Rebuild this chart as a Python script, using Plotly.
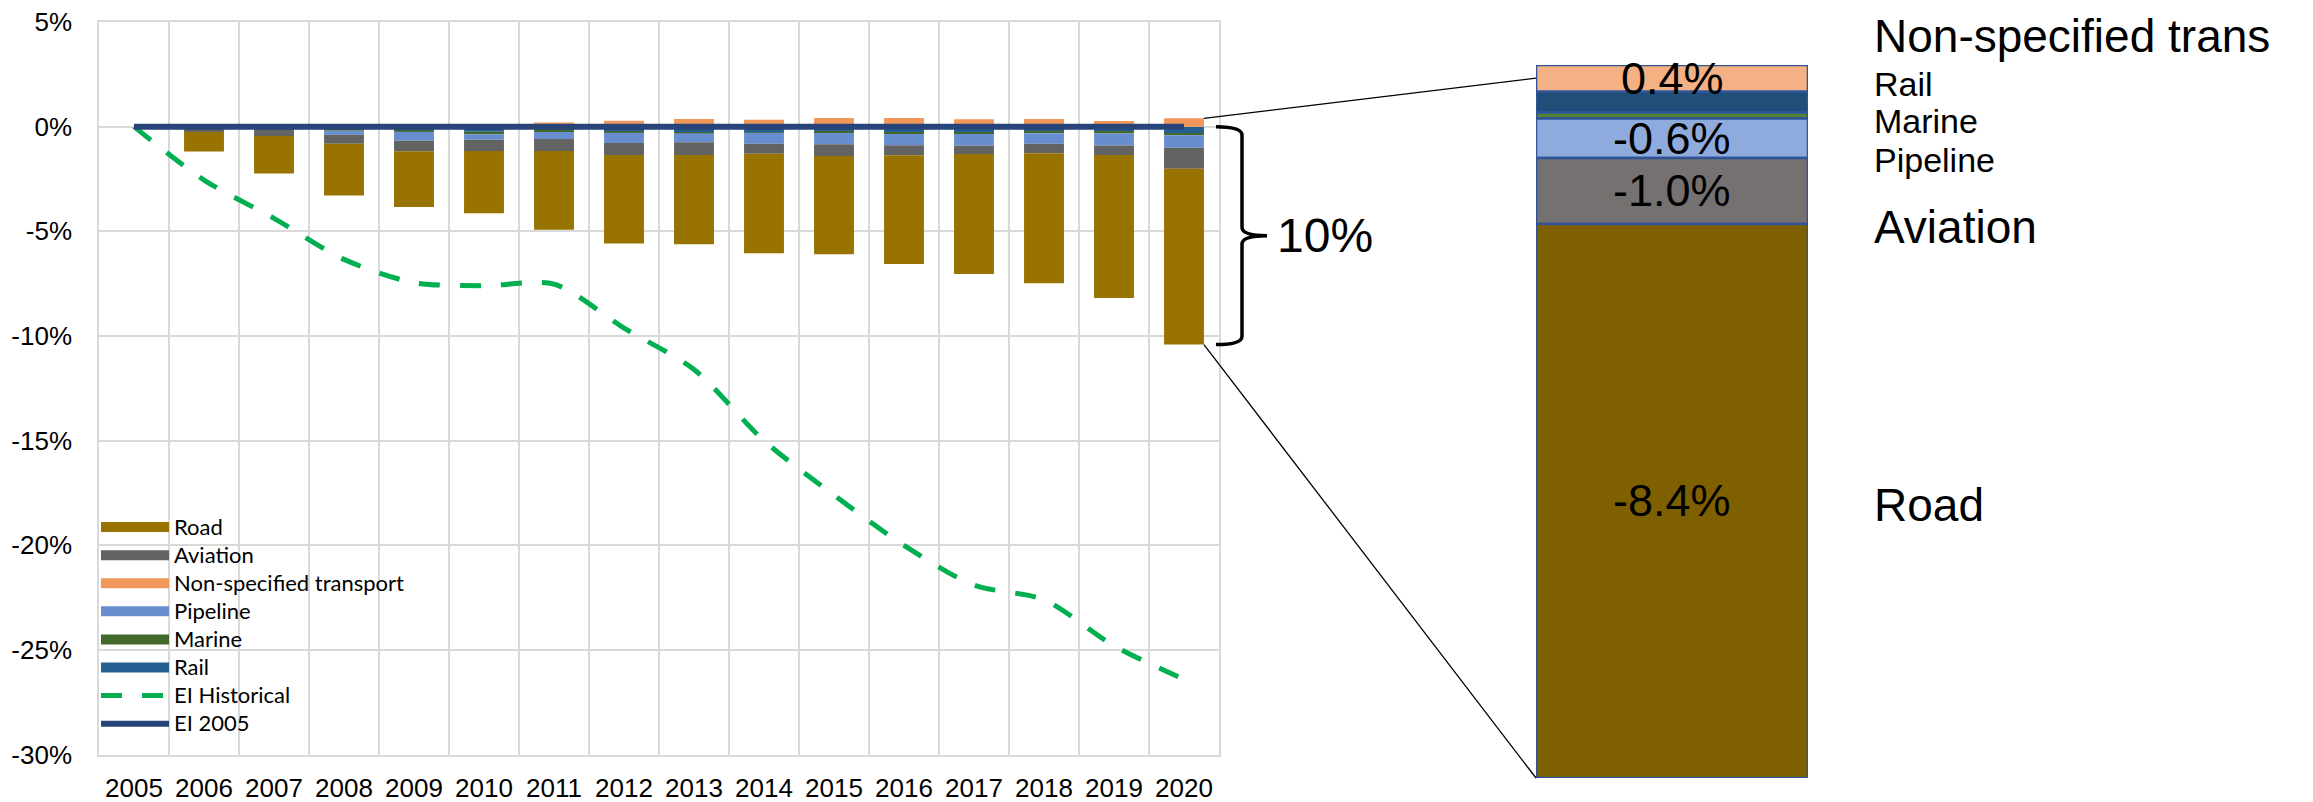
import plotly.graph_objects as go

# ---- data: change vs 2005 in transport energy intensity, percentage points ----
years = [str(y) for y in range(2005, 2021)]
road = [0.0, -0.94, -1.80, -2.47, -2.67, -2.97, -3.76, -4.23, -4.27, -4.76, -4.70, -5.20, -5.74, -6.21, -6.83, -8.40]
aviation = [0.0, -0.21, -0.38, -0.44, -0.50, -0.54, -0.57, -0.57, -0.61, -0.48, -0.56, -0.47, -0.39, -0.45, -0.45, -1.00]
non_specified = [0.0, 0.0, 0.0, 0.0, 0.0, 0.0, 0.20, 0.28, 0.37, 0.33, 0.41, 0.41, 0.35, 0.37, 0.27, 0.40]
pipeline = [0.0, 0.0, 0.0, -0.19, -0.43, -0.26, -0.34, -0.49, -0.42, -0.52, -0.54, -0.54, -0.56, -0.50, -0.57, -0.60]
marine = [0.0, -0.01, -0.02, -0.11, -0.05, -0.12, -0.15, -0.04, -0.05, -0.02, -0.05, -0.05, -0.05, -0.07, -0.08, -0.09]
rail = [0.0, -0.03, -0.04, -0.08, -0.19, -0.24, -0.10, -0.25, -0.27, -0.27, -0.25, -0.30, -0.30, -0.25, -0.25, -0.32]
ei_historical = [0.0, -2.55, -4.38, -6.34, -7.45, -7.60, -7.52, -9.62, -11.6, -15.0, -17.6, -20.0, -21.9, -22.6, -24.8, -26.4]
ei_2005 = [0.0] * len(years)

y_tick_values = [5, 0, -5, -10, -15, -20, -25, -30]
y_tick_labels = ["5%", "0%", "-5%", "-10%", "-15%", "-20%", "-25%", "-30%"]

# ---- styling ----
W, H = 2313, 802
AXIS_FONT = "Liberation Sans, Arial, sans-serif"
LEGEND_FONT = "Lato, Carlito, Calibri, sans-serif"
GRID = "#D9D9D9"

bar_colors = {
    "Road": "#997300", "Aviation": "#636363", "Non-specified transport": "#F1975A",
    "Pipeline": "#698ED0", "Marine": "#43682B", "Rail": "#255E91",
}
zoom_colors = {
    "Road": "#7F6000", "Aviation": "#767171", "Non-specified transport": "#F4B183",
    "Pipeline": "#8FAADC", "Marine": "#548235", "Rail": "#1F4E79",
}
series = {
    "Road": road, "Aviation": aviation, "Non-specified transport": non_specified,
    "Pipeline": pipeline, "Marine": marine, "Rail": rail,
}
# stacking order outward from zero
stack_order = ["Rail", "Marine", "Pipeline", "Non-specified transport", "Aviation", "Road"]
legend_order = ["Road", "Aviation", "Non-specified transport", "Pipeline", "Marine", "Rail"]

# main plot area (pixels)
X0, X1 = 99, 1219
Y_TOP, Y_BOT = 22, 754.7
Y_MIN, Y_MAX = -30, 5
BAR_W = 0.57
# detail bar area (pixels)
ZX0, ZX1 = 1536, 1808
ZY_TOP, ZY_BOT = 65, 778

n = len(years)
last = n - 1
neg_total = sum(series[k][last] for k in series if series[k][last] < 0)
pos_total = sum(series[k][last] for k in series if series[k][last] > 0)

xdom = [X0 / W, X1 / W]
ydom = [1 - Y_BOT / H, 1 - Y_TOP / H]
x2dom = [ZX0 / W, ZX1 / W]
y2dom = [1 - ZY_BOT / H, 1 - ZY_TOP / H]
y2range = [neg_total, pos_total]


def main_x_paper(v):
    return xdom[0] + (v + 0.5) / n * (xdom[1] - xdom[0])


def main_y_paper(v):
    return ydom[0] + (v - Y_MIN) / (Y_MAX - Y_MIN) * (ydom[1] - ydom[0])


def zoom_y_paper(v):
    return y2dom[0] + (v - y2range[0]) / (y2range[1] - y2range[0]) * (y2dom[1] - y2dom[0])


def legend_label(text):
    # larger glyphs on a tight legend row pitch
    return f'<span style="font-size:22px">{text}</span>'


fig = go.Figure()

# stacked bars by mode
for name in stack_order:
    fig.add_trace(go.Bar(
        x=years, y=series[name], name=name, legendgroup=name, showlegend=False,
        marker=dict(color=bar_colors[name], line=dict(width=0)), width=BAR_W,
        xaxis="x", yaxis="y",
    ))

# legend swatches for the bar series
for i, name in enumerate(legend_order):
    fig.add_trace(go.Scatter(
        x=[None], y=[None], mode="lines", name=legend_label(name), legendgroup=name,
        legendrank=i + 1, line=dict(color=bar_colors[name], width=14), xaxis="x", yaxis="y",
    ))

fig.add_trace(go.Scatter(
    x=years, y=ei_historical, name=legend_label("EI Historical"), mode="lines", legendrank=7,
    line=dict(color="#00B050", width=5, dash="21px,20px", shape="spline", smoothing=0.8),
    xaxis="x", yaxis="y",
))
fig.add_trace(go.Scatter(
    x=years, y=ei_2005, name=legend_label("EI 2005"), mode="lines", legendrank=8,
    line=dict(color="#264478", width=6), xaxis="x", yaxis="y",
))

# detail bar for the final year
for name in stack_order:
    fig.add_trace(go.Bar(
        x=[0], y=[series[name][last]], name=name, showlegend=False, width=1,
        marker=dict(color=zoom_colors[name], line=dict(color="#2F5597", width=2.5)),
        xaxis="x2", yaxis="y2",
    ))

annotations = []
shapes = []

# value labels inside the detail bar
pos_base, neg_base = 0.0, 0.0
for name in stack_order:
    v = series[name][last]
    if v >= 0:
        mid = pos_base + v / 2
        pos_base += v
    else:
        mid = neg_base + v / 2
        neg_base += v
    if name in ("Rail", "Marine"):
        continue
    annotations.append(dict(
        x=0, y=mid, xref="x2", yref="y2", text=f"{v:.1f}%", showarrow=False,
        font=dict(family=AXIS_FONT, size=45, color="#000000"),
    ))

# mode names beside the detail bar
side_labels = [
    ("Non-specified trans", 36, 46), ("Rail", 84, 34), ("Marine", 121, 34),
    ("Pipeline", 160, 34), ("Aviation", 227, 46), ("Road", 505, 46),
]
for text, ypx, size in side_labels:
    annotations.append(dict(
        x=1872 / W, y=1 - ypx / H, xref="paper", yref="paper", xanchor="left", yanchor="middle",
        text=text, showarrow=False, font=dict(family=AXIS_FONT, size=size, color="#000000"),
    ))

# connectors from the final-year bar to the detail bar
bar_right = main_x_paper(last + BAR_W / 2)
shapes.append(dict(type="line", xref="paper", yref="paper",
                   x0=bar_right, y0=main_y_paper(pos_total),
                   x1=x2dom[0], y1=zoom_y_paper(pos_total / 2),
                   line=dict(color="#000000", width=1.3)))
shapes.append(dict(type="line", xref="paper", yref="paper",
                   x0=bar_right, y0=main_y_paper(neg_total),
                   x1=x2dom[0], y1=zoom_y_paper(neg_total),
                   line=dict(color="#000000", width=1.3)))

# curly brace spanning the final-year decline
xa, xv, xt = (X1 - 3) / W, (X1 + 23) / W, (X1 + 48) / W
yt, yb = 0.0, neg_total
ym = (yt + yb) / 2
r = 0.4
brace = (f"M {xa},{yt} Q {xv},{yt} {xv},{yt - r} L {xv},{ym + r} "
         f"Q {xv},{ym} {xt},{ym} Q {xv},{ym} {xv},{ym - r} "
         f"L {xv},{yb + r} Q {xv},{yb} {xa},{yb}")
shapes.append(dict(type="path", xref="paper", yref="y", path=brace,
                   line=dict(color="#000000", width=3.5)))
annotations.append(dict(
    x=(X1 + 56) / W, y=ym, xref="paper", yref="y", xanchor="left", yanchor="middle",
    text=f"{abs(round(neg_total))}%", showarrow=False,
    font=dict(family=AXIS_FONT, size=48, color="#000000"),
))

fig.update_layout(
    width=W, height=H, margin=dict(l=0, r=0, t=0, b=0),
    paper_bgcolor="white", plot_bgcolor="white",
    barmode="relative", bargap=1 - BAR_W,
    showlegend=True,
    legend=dict(
        x=96 / W, y=1 - 508 / H, xanchor="left", yanchor="top",
        bgcolor="rgba(0,0,0,0)", borderwidth=0, itemwidth=68,
        font=dict(family=LEGEND_FONT, size=19.3, color="#000000"),
        tracegroupgap=0,
    ),
    xaxis=dict(
        domain=xdom, type="category", range=[-0.5, n - 0.5], tickson="boundaries",
        showgrid=True, gridcolor=GRID, gridwidth=1.5, ticks="",
        showline=True, linecolor=GRID, linewidth=1.5, mirror=True,
        tickfont=dict(family=AXIS_FONT, size=26, color="#000000"),
        ticklabelstandoff=9, automargin=False, fixedrange=True,
    ),
    yaxis=dict(
        domain=ydom, range=[Y_MIN, Y_MAX], tickmode="array",
        tickvals=y_tick_values, ticktext=y_tick_labels,
        showgrid=True, gridcolor=GRID, gridwidth=1.5, zeroline=False, ticks="",
        showline=True, linecolor=GRID, linewidth=1.5, mirror=True,
        tickfont=dict(family=AXIS_FONT, size=26, color="#000000"),
        ticklabelstandoff=20, automargin=False, fixedrange=True,
    ),
    xaxis2=dict(domain=x2dom, range=[-0.5, 0.5], visible=False, anchor="y2", fixedrange=True),
    yaxis2=dict(domain=y2dom, range=y2range, visible=False, anchor="x2", fixedrange=True),
    annotations=annotations,
    shapes=shapes,
)

fig.write_html("out.html")
